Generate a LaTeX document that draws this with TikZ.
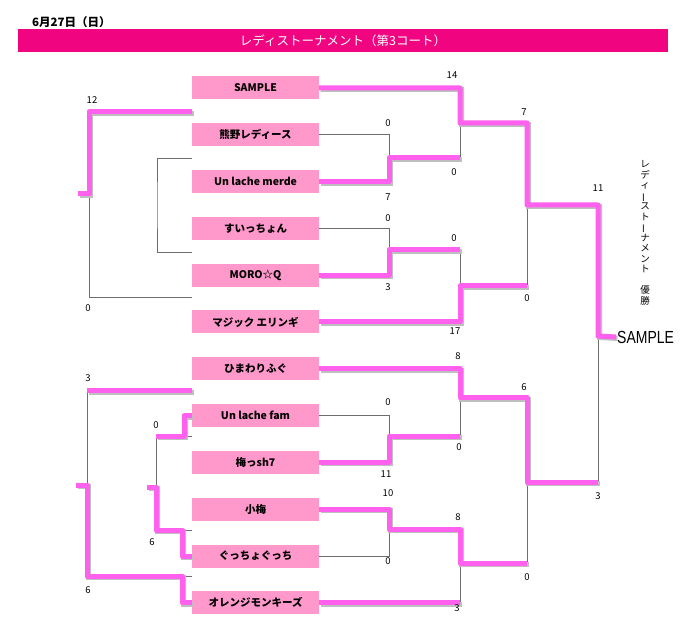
\documentclass[tikz,border=0pt]{standalone}
\usepackage{fontspec}
\setmainfont{Noto Sans CJK JP}
\newfontfamily\narrowfont[FakeStretch=0.8]{Liberation Sans}
\usetikzlibrary{positioning}
\definecolor{barpink}{RGB}{240,4,127}
\definecolor{boxpink}{RGB}{255,153,204}
\definecolor{linkpink}{RGB}{255,96,238}
\definecolor{thingray}{RGB}{110,110,110}
\begin{document}
\begin{tikzpicture}
  [x=1pt,y=-1pt,every node/.style={inner sep=0pt},
   team/.style={fill=boxpink,minimum width=127pt,minimum height=23pt,font=\bfseries\fontsize{10.5}{12}\selectfont},
   score/.style={font=\fontsize{9.5}{10}\selectfont},
   win/.style={draw=linkpink,line width=5pt,line join=round,
     preaction={draw=black!25,line width=5pt,transform canvas={shift={(1.5pt,-1.5pt)}}}},
   lose/.style={draw=thingray,line width=0.8pt}]
\useasboundingbox (0,0) rectangle (680,617);

\node (date)[anchor=west,font=\bfseries\fontsize{11.5}{13}\selectfont] at (32,22) {6月27日（日）};
\node (bar)[fill=barpink,minimum width=650pt,minimum height=23pt,text=white,font=\fontsize{12.5}{14}\selectfont] at (343,41) {レディストーナメント（第3コート）};

\node (t1)[team] at (255.5,88) {SAMPLE};
  \node (t2)[team,below=23.4pt of t1] {熊野レディース};
  \node (t3)[team,below=23.4pt of t2] {Un lache merde};
  \node (t4)[team,below=23.4pt of t3] {すいっちょん};
  \node (t5)[team,below=23.4pt of t4] {MORO☆Q};
  \node (t6)[team,below=23.4pt of t5] {マジック エリンギ};
  \node (t7)[team,below=23.4pt of t6] {ひまわりふぐ};
  \node (t8)[team,below=23.4pt of t7] {Un lache fam};
  \node (t9)[team,below=23.4pt of t8] {梅っsh7};
  \node (t10)[team,below=23.4pt of t9] {小梅};
  \node (t11)[team,below=23.4pt of t10] {ぐっちょぐっち};
  \node (t12)[team,below=23.4pt of t11] {オレンジモンキーズ};

\node (champ)[anchor=west,inner sep=1pt,font=\narrowfont\fontsize{17.5}{18}\selectfont] at (616,337) {SAMPLE};
\node (champtitle)[align=center,font=\fontsize{9.5}{10.5}\selectfont] at (645,233)
  {レ\\デ\\ィ\\\rotatebox[origin=c]{90}{ー}\\ス\\ト\\\rotatebox[origin=c]{90}{ー}\\ナ\\メ\\ン\\ト\\　\\優\\勝};

% right side
\coordinate (m1) at (389,158); \coordinate (m2) at (389,250);
\coordinate (m3) at (389,436); \coordinate (m4) at (389,529);
\coordinate (q1) at (460,123); \coordinate (q2) at (460,286);
\coordinate (q3) at (460,398); \coordinate (q4) at (460,563);
\coordinate (s1) at (527,205); \coordinate (s2) at (527,482);
\coordinate (f) at (598,336);

 \draw [lose] (t2.east) -| (m1);
 \draw [lose] (m1 -| q1) -- (q1);
 \draw [lose] (t4.east) -| (m2);
 \draw [lose] (m2 -| q2) -- (q2);
 \draw [lose] (q2 -| s1) -- (s1);
 \draw [lose] (t8.east) -| (m3);
 \draw [lose] (m3 -| q3) -- (q3);
 \draw [lose] (t11.east) -| (m4);
 \draw [lose] (t12.east -| q4) -- (q4);
 \draw [lose] (q4 -| s2) -- (s2);
 \draw [lose] (s2 -| f) -- (f);

 \draw [win] (t3.east) -| (m1) -- (m1 -| q1);
 \draw [win] (t5.east) -| (m2) -- (m2 -| q2);
 \draw [win] (t1.east) -| (q1) -- (q1 -| s1) -- (s1) -- (s1 -| f) -- (f) -- (champ.west);
 \draw [win] (t6.east) -| (q2) -- (q2 -| s1);
 \draw [win] (t9.east) -| (m3) -- (m3 -| q3);
 \draw [win] (t7.east) -| (q3) -- (q3 -| s2) -- (s2) -- (s2 -| f);
 \draw [win] (t10.east) -| (m4) -- (m4 -| q4) -- (q4) -- (q4 -| s2);
 \draw [win] (t12.east) -- (t12.east -| q4);

% left side
\coordinate (ua) at (192,112); \coordinate (uj) at (89,194); \coordinate (ue) at (78,194);
\coordinate (ub) at (192,297); \coordinate (uc) at (192,158);
\coordinate (uk) at (157,205); \coordinate (ud) at (192,252);
\coordinate (va) at (192,391); \coordinate (vj) at (87,485); \coordinate (ve) at (76,485);
\coordinate (vk) at (182,576);
\coordinate (wa) at (184,436); \coordinate (wj) at (156,487); \coordinate (we) at (147,487);
\coordinate (wk) at (182,530);

 \draw [lose] (uj) |- (ub);
 \draw [lose] (uc) -| (uk) |- (ud);
 \draw [lose] (va -| vj) -- (vj);
 \draw [lose] (vk) -- (vk -| t12.west);
 \draw [lose] (wa) -- (wa -| t8.west);
 \draw [lose] (wa -| wj) -- (wj);
 \draw [lose] (wk) -- (wk -| t11.west);

 \draw [win] (ua) -| (uj) -- (ue);
 \draw [win] (va) -- (va -| vj);
 \draw [win] (ve) -- (vj) |- (vk) |- (t12.west);
 \draw [win] (t8.west) -| (wa) -- (wa -| wj);
 \draw [win] (we) -- (wj) |- (wk) |- (t11.west);

% scores
\foreach \x/\y/\s [count=\i] in {452/75/14, 388/123/0, 388/197/7, 454/172/0, 524/112/7,
   388/218/0, 388/287/3, 454/238/0, 455/331/17, 527/298/0, 598/188/11,
   458/356/8, 524/387/6, 388/402/0, 386/474/11, 459/447/0, 388/493/10,
   388/561/0, 458/517/8, 457/608/3, 527/577/0, 598/496/3,
   92/100/12, 88/308/0, 88/378/3, 88/590/6, 156/425/0, 152/542/6}
  \node (sc\i)[score] at (\x,\y) {\s};
\end{tikzpicture}
\end{document}
